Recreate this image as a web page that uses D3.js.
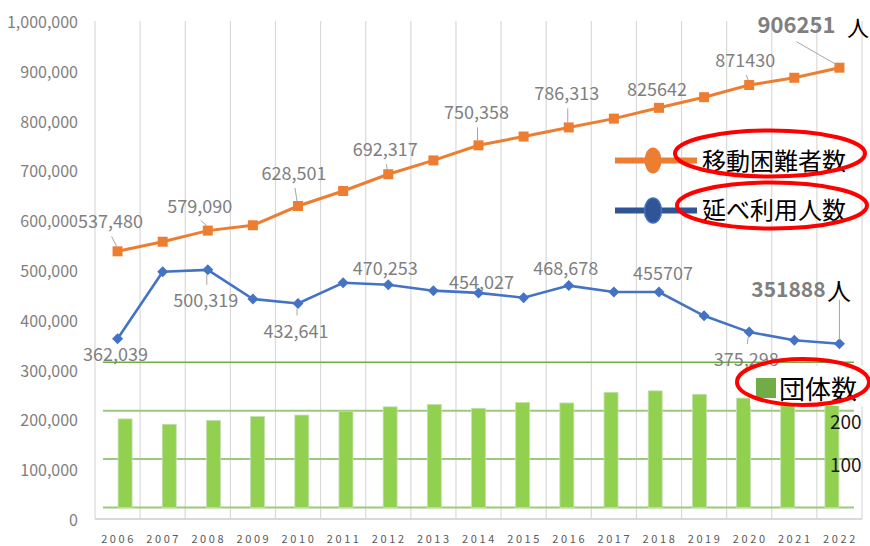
<!DOCTYPE html>
<html><head><meta charset="utf-8">
<script src="https://cdn.jsdelivr.net/npm/d3@7"></script>
<style>
html,body{margin:0;padding:0;background:#fff;}
svg{display:block;font-family:"Noto Sans CJK JP","Noto Sans",sans-serif;}
</style></head>
<body><svg id="c" width="870" height="546"></svg>
<script>
// ---- data ----
const years = ["2006","2007","2008","2009","2010","2011","2012","2013","2014","2015","2016","2017","2018","2019","2020","2021","2022"];
const refugees = [537480,556800,579090,589800,628501,658600,692317,720000,750358,768000,786313,804000,825642,847000,871430,886000,906251];
const users = [362039,496600,500319,441800,432641,474500,470253,458500,454027,444400,468678,455800,455707,408000,375298,358800,351888];
const groups = [183,172,180,188,191,199,208,213,205,217,216,238,241,234,226,232,230];
const refugeeLabels = ["537,480",null,"579,090",null,"628,501",null,"692,317",null,"750,358",null,"786,313",null,"825642",null,"871430",null,"906251"];
const userLabels = ["362,039",null,"500,319",null,"432,641",null,"470,253",null,"454,027",null,"468,678",null,"455707",null,"375,298",null,"351888"];
const yTicks = [0,100000,200000,300000,400000,500000,600000,700000,800000,900000,1000000];
const groupTicks = [0,100,200,300];
const groupTickLabels = ["100","200"];
const seriesNames = ["移動困難者数","延べ利用人数","団体数"];
const unit = "人";

// ---- layout ----
const svg = d3.select("#c");
const x = d3.scaleBand().domain(years).range([95,862]);
const cx = d => x(d)+x.bandwidth()/2;
const y = d3.scaleLinear().domain([0,1000000]).range([519,21]);
const xb = d3.scaleBand().domain(years).range([103,854]);
const yb = d3.scaleLinear().domain([0,300]).range([507.5,362.3]);
const fmt = d3.format(",");

// vertical gridlines
svg.append("g").selectAll("line").data(years.concat(["end"])).join("line")
  .attr("x1",(d,i)=>95+i*x.bandwidth()).attr("x2",(d,i)=>95+i*x.bandwidth())
  .attr("y1",21).attr("y2",519).attr("stroke","#d9d9d9").attr("stroke-width",1.2);
// bottom axis line
svg.append("line").attr("x1",95).attr("x2",862).attr("y1",519).attr("y2",519)
  .attr("stroke","#d9d9d9").attr("stroke-width",2);

// y axis labels
svg.append("g").selectAll("text").data(yTicks).join("text")
  .attr("x",78).attr("y",d=>y(d)).attr("text-anchor","end").attr("dominant-baseline","central")
  .attr("font-size",16).attr("fill","#7f7f7f").text(d=>fmt(d));

// x axis labels
svg.append("g").selectAll("text").data(years).join("text")
  .attr("x",d=>cx(d)+1).attr("y",538).attr("text-anchor","middle").attr("dominant-baseline","central")
  .attr("font-size",11).attr("letter-spacing","2.6px").attr("fill","#595959").text(d=>d);

// bar gridlines
svg.append("g").selectAll("line").data(groupTicks).join("line")
  .attr("x1",103).attr("x2",854).attr("y1",d=>yb(d)).attr("y2",d=>yb(d))
  .attr("stroke",d=>d===300?"#70ad47":"#9cc97c").attr("stroke-width",d=>d===300?1.5:2);

// bars
const bw = 14;
svg.append("g").selectAll("rect").data(groups).join("rect")
  .attr("x",(d,i)=>xb(years[i])+xb.bandwidth()/2-bw/2).attr("width",bw)
  .attr("y",d=>yb(d)).attr("height",d=>yb(0)-yb(d))
  .attr("fill","#92d050").attr("stroke","#c5e0b4").attr("stroke-width",0.8);

// lines
const lineGen = arr => d3.line().x((d,i)=>cx(years[i])).y(d=>y(d))(arr);
svg.append("path").attr("d",lineGen(refugees)).attr("fill","none").attr("stroke","#ed7d31").attr("stroke-width",3);
svg.append("path").attr("d",lineGen(users)).attr("fill","none").attr("stroke","#4472c4").attr("stroke-width",2.6);

svg.append("g").selectAll("rect").data(refugees).join("rect")
  .attr("x",(d,i)=>cx(years[i])-5).attr("y",d=>y(d)-5).attr("width",10).attr("height",10)
  .attr("fill","#ed7d31");
svg.append("g").selectAll("path").data(users).join("path")
  .attr("d",(d,i)=>{const X=cx(years[i]),Y=y(d);return `M${X},${Y-5.5}L${X+5.5},${Y}L${X},${Y+5.5}L${X-5.5},${Y}Z`;})
  .attr("fill","#4472c4");

// data labels
const refOff = [[-7,-31],null,[-8,-26],null,[-4,-34],null,[-3,-26],null,[-2,-34],null,[-2,-35],null,[-2,-20],null,[-4,-26],null,[-43,-45]];
const useOff = [[-2,14],null,[-2,29],null,[-2,26],null,[-3,-18],null,[3,-12],null,[-3,-19],null,[4,-20],null,[-3,26],null,[-51,-56]];
const leader = (x1,y1,x2,y2)=>svg.append("line").attr("x1",x1).attr("y1",y1).attr("x2",x2).attr("y2",y2)
  .attr("stroke","#a6a6a6").attr("stroke-width",1);

refugeeLabels.forEach((t,i)=>{
  if(!t) return;
  const X=cx(years[i]),Y=y(refugees[i]),o=refOff[i];
  const last = i===years.length-1;
  if(last){
    leader(X-43,Y-26,X-3,Y-3);
    svg.append("text").attr("x",X+o[0]).attr("y",Y+o[1]).attr("text-anchor","middle").attr("dominant-baseline","central")
      .attr("font-size",22).attr("font-weight","bold").attr("fill","#7f7f7f").text(t);
    svg.append("text").attr("x",847).attr("y",Y+o[1]+3).attr("dominant-baseline","central")
      .attr("font-size",22).attr("fill","#000").text(unit);
  } else {
    if(-o[1]>24) leader(X+o[0]+1,Y+o[1]+16,X-1,Y-5);
    svg.append("text").attr("x",X+o[0]).attr("y",Y+o[1]).attr("text-anchor","middle").attr("dominant-baseline","central")
      .attr("font-size",18).attr("fill","#7f7f7f").text(t);
  }
});
userLabels.forEach((t,i)=>{
  if(!t) return;
  const X=cx(years[i]),Y=y(users[i]),o=useOff[i];
  const last = i===years.length-1;
  if(last){
    leader(X,Y+o[1]+12,X,Y-4);
    svg.append("text").attr("x",X+o[0]).attr("y",Y+o[1]).attr("text-anchor","middle").attr("dominant-baseline","central")
      .attr("font-size",21).attr("font-weight","bold").attr("fill","#7f7f7f").text(t);
    svg.append("text").attr("x",827).attr("y",Y+o[1]+2).attr("dominant-baseline","central")
      .attr("font-size",24).attr("fill","#000").text(unit);
  } else {
    if(o[1]>24) leader(X-1,Y+5,X+o[0]+1,Y+o[1]-14);
    svg.append("text").attr("x",X+o[0]).attr("y",Y+o[1]).attr("text-anchor","middle").attr("dominant-baseline","central")
      .attr("font-size",18).attr("fill","#7f7f7f").text(t);
  }
});

// secondary labels
groupTickLabels.forEach(t=>{
  svg.append("text").attr("x",830).attr("y",t==="200"?420:463).attr("dominant-baseline","central")
    .attr("font-size",19).attr("fill","#1a1a1a").text(t);
});

// legends
const lg = svg.append("g");
// orange
lg.append("line").attr("x1",615).attr("x2",697).attr("y1",160.5).attr("y2",160.5).attr("stroke","#ed7d31").attr("stroke-width",6);
lg.append("ellipse").attr("cx",653).attr("cy",160.5).attr("rx",8.5).attr("ry",13).attr("fill","#ed7d31");
lg.append("text").attr("x",702).attr("y",159).attr("dominant-baseline","central").attr("font-size",24).attr("fill","#000").text(seriesNames[0]);
lg.append("ellipse").attr("cx",770).attr("cy",153.5).attr("rx",95).attr("ry",23).attr("fill","none").attr("stroke","#ff0000").attr("stroke-width",4);
// blue
lg.append("line").attr("x1",615).attr("x2",697).attr("y1",210.5).attr("y2",210.5).attr("stroke","#2f5597").attr("stroke-width",6);
lg.append("ellipse").attr("cx",653).attr("cy",210.5).attr("rx",8.5).attr("ry",12.5).attr("fill","#2f5597").attr("stroke","#4472c4").attr("stroke-width",1.5);
lg.append("text").attr("x",702).attr("y",208).attr("dominant-baseline","central").attr("font-size",24).attr("fill","#000").text(seriesNames[1]);
lg.append("ellipse").attr("cx",772).attr("cy",205.5).attr("rx",95).attr("ry",23).attr("fill","none").attr("stroke","#ff0000").attr("stroke-width",4);
// green
lg.append("rect").attr("x",750).attr("y",366).attr("width",114).attr("height",40).attr("fill","#fff");
lg.append("rect").attr("x",756).attr("y",378).attr("width",20).attr("height",20).attr("fill","#70ad47");
lg.append("text").attr("x",779).attr("y",387).attr("dominant-baseline","central").attr("font-size",26).attr("fill","#000").text(seriesNames[2]);
lg.append("ellipse").attr("cx",803).attr("cy",382).attr("rx",66).attr("ry",23).attr("fill","none").attr("stroke","#ff0000").attr("stroke-width",4);
</script></body></html>
